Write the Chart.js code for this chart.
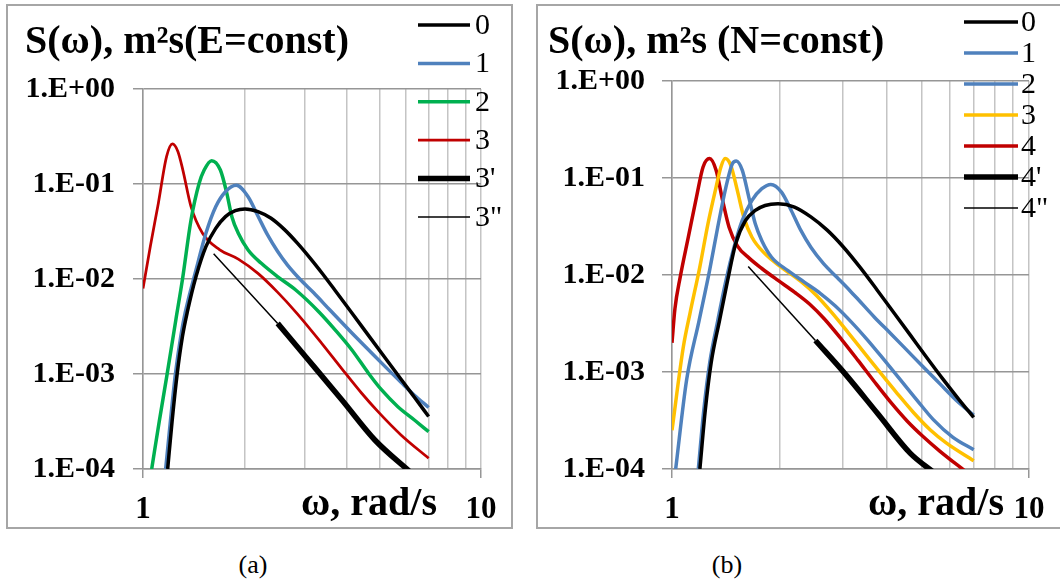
<!DOCTYPE html>
<html>
<head>
<meta charset="utf-8">
<script src="https://cdn.jsdelivr.net/npm/chart.js@4.4.1/dist/chart.umd.min.js"></script>
<style>
  body { margin: 0; background: #fff; width: 1060px; height: 579px; overflow: hidden; position: relative; font-family: "Liberation Serif", "Times New Roman", serif; }
  .panel { position: absolute; top: 4px; height: 525px; box-sizing: border-box; border: 2px solid #a6a6a6; background: #fff; overflow: hidden; }
  #pa { left: 6px; width: 507px; }
  #pb { left: 536px; width: 524px; border-right: none; }
  .panel canvas { display: block; }
  .cap { position: absolute; top: 549px; font-family: "Liberation Serif", serif; font-size: 26px; line-height: 32px; transform: translateX(-50%); color: #000; }
</style>
</head>
<body>
<div class="panel" id="pa"><canvas id="chartA" width="503" height="521"></canvas></div>
<div class="panel" id="pb"><canvas id="chartB" width="522" height="521"></canvas></div>
<div class="cap" style="left:253px">(a)</div>
<div class="cap" style="left:727px">(b)</div>
<script>
// ---- axes ----
const xGridValues = [1, 2, 3, 4, 5, 6, 7, 8, 9, 10];
const xTickLabels = ['1', '', '', '', '', '', '', '', '', '10'];
const yTickValues = [1e-4, 1e-3, 1e-2, 1e-1, 1];
const yTickLabels = ['1.E-04', '1.E-03', '1.E-02', '1.E-01', '1.E+00'];

// ---- panel (a): E = const ----
const labelsA = ['0', '1', '2', '3', "3'", '3"'];
const omegaA0 = [1.183, 1.219, 1.262, 1.309, 1.352, 1.435, 1.535, 1.641, 1.754, 1.875, 2.004, 2.188, 2.393, 2.618, 2.858, 3.126, 3.388, 3.707, 4.150, 4.645, 5.188, 5.808, 6.353, 7.0];
const sA0     = [1.0e-4, 3.16e-4, 1.0e-3, 2.51e-3, 4.47e-3, 0.0106, 0.0219, 0.0341, 0.0453, 0.0524, 0.0546, 0.0512, 0.0436, 0.0333, 0.0240, 0.0165, 0.0115, 0.00753, 0.00439, 0.00255, 0.00150, 8.75e-4, 5.69e-4, 3.57e-4];
const omegaA1 = [1.167, 1.205, 1.247, 1.294, 1.334, 1.435, 1.535, 1.641, 1.754, 1.888, 2.046, 2.188, 2.339, 2.500, 2.673, 2.924, 3.199, 3.573, 4.150, 4.645, 5.188, 5.808, 6.353, 7.0];
const sA1     = [1.0e-4, 3.16e-4, 1.0e-3, 2.51e-3, 4.47e-3, 0.01245, 0.0303, 0.0577, 0.0830, 0.0968, 0.0736, 0.0461, 0.0289, 0.0196, 0.0141, 0.00982, 0.00716, 0.00471, 0.00270, 0.00180, 0.00121, 8.13e-4, 5.98e-4, 4.44e-4];
const omegaA2 = [1.061, 1.117, 1.175, 1.252, 1.309, 1.387, 1.466, 1.517, 1.596, 1.694, 1.770, 1.832, 1.914, 2.046, 2.239, 2.500, 2.831, 3.311, 3.707, 4.150, 4.645, 5.082, 5.675, 6.353, 7.0];
const sA2     = [1.0e-4, 3.16e-4, 9.33e-4, 3.80e-3, 0.0100, 0.0418, 0.1016, 0.1403, 0.1762, 0.1403, 0.0798, 0.0453, 0.0303, 0.0202, 0.01462, 0.0106, 0.00766, 0.00453, 0.00290, 0.00179, 0.00102, 6.79e-4, 4.53e-4, 3.28e-4, 2.47e-4];
const omegaA3 = [1.0, 1.052, 1.110, 1.174, 1.222, 1.269, 1.312, 1.387, 1.500, 1.683, 1.914, 2.188, 2.500, 2.858, 3.388, 3.882, 4.436, 4.966, 5.808, 7.0];
const sA3     = [0.00794, 0.0224, 0.0625, 0.194, 0.264, 0.219, 0.140, 0.0577, 0.0303, 0.0204, 0.0162, 0.01146, 0.00728, 0.00433, 0.00208, 0.001127, 6.27e-4, 3.99e-4, 2.27e-4, 1.297e-4];
const omegaA3p  = [2.503, 3.029, 3.878, 4.853, 6.166];
const sA3p      = [0.00341, 0.00152, 5.32e-4, 2.02e-4, 9.33e-5];
const omegaA3pp = [1.618, 2.503];
const sA3pp     = [0.0184, 0.00341];

// ---- panel (b): N = const ----
const labelsB = ['0', '1', '2', '3', '4', "4'", '4"'];
const omegaB0 = [1.197, 1.239, 1.288, 1.358, 1.431, 1.507, 1.607, 1.711, 1.823, 1.982, 2.203, 2.449, 2.721, 3.020, 3.373, 3.767, 4.188, 4.652, 5.170, 5.741, 6.383, 7.0];
const sB0     = [1.0e-4, 3.98e-4, 1.259e-3, 3.37e-3, 8.73e-3, 0.0209, 0.0365, 0.0463, 0.0521, 0.0542, 0.0501, 0.0397, 0.0290, 0.01945, 0.01183, 0.00689, 0.00406, 0.00240, 0.001413, 8.45e-4, 5.14e-4, 3.40e-4];
const omegaB1 = [1.185, 1.227, 1.276, 1.343, 1.416, 1.492, 1.573, 1.675, 1.785, 1.892, 2.026, 2.158, 2.296, 2.449, 2.661, 2.897, 3.152, 3.319, 3.690, 4.102, 4.556, 5.058, 5.623, 6.252, 7.0];
const sB1     = [1.0e-4, 3.98e-4, 1.259e-3, 3.37e-3, 8.73e-3, 0.0193, 0.0365, 0.0587, 0.0776, 0.0859, 0.0716, 0.0463, 0.0288, 0.0193, 0.0130, 0.00946, 0.00689, 0.00562, 0.00367, 0.00248, 0.00167, 0.001125, 7.59e-4, 5.13e-4, 3.59e-4];
const omegaB2 = [1.024, 1.099, 1.191, 1.274, 1.343, 1.416, 1.476, 1.514, 1.574, 1.641, 1.711, 1.785, 1.901, 2.113, 2.347, 2.606, 2.863, 3.181, 3.536, 3.929, 4.365, 4.853, 5.395, 6.124, 7.0];
const sB2     = [1.0e-4, 8.32e-4, 3.39e-3, 0.0111, 0.0311, 0.0807, 0.1406, 0.150, 0.120, 0.0635, 0.0337, 0.0226, 0.01524, 0.01109, 0.00845, 0.00644, 0.00482, 0.00327, 0.00212, 0.00133, 8.28e-4, 5.14e-4, 3.23e-4, 2.12e-4, 1.58e-4];
const omegaB3 = [1.0, 1.076, 1.123, 1.196, 1.261, 1.329, 1.371, 1.409, 1.461, 1.524, 1.589, 1.675, 1.823, 2.026, 2.296, 2.535, 2.804, 3.115, 3.462, 3.846, 4.276, 4.753, 5.284, 5.861, 7.0];
const sB3     = [2.51e-4, 1.82e-3, 4.03e-3, 0.0120, 0.0337, 0.0807, 0.130, 0.1585, 0.1352, 0.0745, 0.0395, 0.0245, 0.0165, 0.0120, 0.00857, 0.00618, 0.00409, 0.00255, 0.001567, 9.66e-4, 6.0e-4, 3.80e-4, 2.54e-4, 1.86e-4, 1.216e-4];
const omegaB4 = [1.0, 1.019, 1.054, 1.111, 1.171, 1.222, 1.274, 1.329, 1.386, 1.445, 1.524, 1.648, 1.785, 1.982, 2.203, 2.432, 2.673, 2.987, 3.319, 3.690, 4.102, 4.555, 5.058, 5.623, 6.683];
const sB4     = [0.0020, 0.00447, 0.00946, 0.0246, 0.0635, 0.130, 0.1585, 0.120, 0.0588, 0.0311, 0.0200, 0.01483, 0.01167, 0.00879, 0.00667, 0.0050, 0.00352, 0.00216, 0.001318, 7.93e-4, 4.86e-4, 3.13e-4, 2.15e-4, 1.531e-4, 9.27e-5];
const omegaB4p  = [2.522, 3.050, 3.767, 4.652, 5.433];
const sB4p      = [0.00211, 9.62e-4, 3.73e-4, 1.449e-4, 9.12e-5];
const omegaB4pp = [1.635, 2.522];
const sB4pp     = [0.01225, 0.00211];

const BLACK = '#000000', BLUE = '#4f81bd', GREEN = '#00b050', RED = '#c00000', YELLOW = '#ffc000';
const SERIF = '"Liberation Serif", "Times New Roman", serif';

// titles, axis name and the legend are painted on top of the chart
const panelText = {
  id: 'panelText',
  afterDraw(chart, args, o) {
    const ctx = chart.ctx;
    ctx.save();
    ctx.fillStyle = '#000';
    ctx.font = 'bold 40px ' + SERIF;
    ctx.textBaseline = 'alphabetic';
    ctx.textAlign = 'left';
    ctx.fillText(o.title, o.titleX, o.titleY);
    ctx.textAlign = 'center';
    ctx.fillText(o.xName, o.xNameX, o.xNameY);

    ctx.font = '30px ' + SERIF;
    ctx.textAlign = 'left';
    ctx.textBaseline = 'middle';
    chart.data.datasets.forEach((ds, i) => {
      const y = o.legendY + i * o.legendGap;
      ctx.strokeStyle = ds.borderColor;
      ctx.lineWidth = ds.borderWidth;
      ctx.beginPath();
      ctx.moveTo(o.legendX0, y);
      ctx.lineTo(o.legendX1, y);
      ctx.stroke();
      ctx.fillText(ds.label, o.legendTextX, y + 1);
    });
    ctx.restore();
  }
};

function series(label, omega, s, color, width) {
  return {
    label,
    data: omega.map((w, i) => ({ x: w, y: s[i] })),
    borderColor: color,
    borderWidth: width,
    pointRadius: 0,
    fill: false,
    cubicInterpolationMode: 'monotone',
    borderJoinStyle: 'round'
  };
}

function makeChart(id, datasets, lay) {
  return new Chart(document.getElementById(id), {
    type: 'line',
    data: { datasets },
    options: {
      responsive: false,
      animation: false,
      events: [],
      layout: { padding: { left: 0, right: lay.right, top: lay.top, bottom: 0 } },
      plugins: { legend: { display: false }, tooltip: { enabled: false }, panelText: lay.text },
      scales: {
        x: {
          type: 'logarithmic', min: 1, max: 10,
          afterBuildTicks: s => { s.ticks = xGridValues.map(v => ({ value: v })); },
          afterFit: s => { s.height = 58; },
          ticks: {
            autoSkip: false, maxRotation: 0, minRotation: 0, padding: 13, color: '#000',
            font: { family: SERIF, size: 31, weight: 'bold' },
            callback: (v, i) => xTickLabels[i]
          },
          grid: {
            color: '#c4c4c4', lineWidth: 1.5, tickLength: 9,
            tickColor: c => xTickLabels[c.index] ? '#969696' : 'rgba(0,0,0,0)'
          },
          border: { color: '#969696', width: 1.5 }
        },
        y: {
          type: 'logarithmic', min: 1e-4, max: 1,
          afterBuildTicks: s => { s.ticks = yTickValues.map(v => ({ value: v })); },
          afterFit: s => { s.width = lay.yWidth; },
          ticks: {
            padding: lay.yPad, color: '#000',
            font: { family: SERIF, size: 30, weight: 'bold' },
            callback: (v, i) => yTickLabels[i]
          },
          grid: { color: '#969696', lineWidth: 1.5, tickLength: 10 },
          border: { color: '#969696', width: 1.5 }
        }
      }
    },
    plugins: [panelText]
  });
}

makeChart('chartA', [
  series(labelsA[0], omegaA0, sA0, BLACK, 3.5),
  series(labelsA[1], omegaA1, sA1, BLUE, 3.5),
  series(labelsA[2], omegaA2, sA2, GREEN, 3.5),
  series(labelsA[3], omegaA3, sA3, RED, 2.75),
  series(labelsA[4], omegaA3p, sA3p, BLACK, 5.5),
  series(labelsA[5], omegaA3pp, sA3pp, BLACK, 1.5)
], {
  right: 30, top: 83, yWidth: 135, yPad: 18,
  text: {
    title: 'S(ω), m²s(E=const)', titleX: 17, titleY: 47,
    xName: 'ω, rad/s', xNameX: 361, xNameY: 509,
    legendX0: 410, legendX1: 462, legendTextX: 467, legendY: 19, legendGap: 38.4
  }
});

makeChart('chartB', [
  series(labelsB[0], omegaB0, sB0, BLACK, 3.5),
  series(labelsB[1], omegaB1, sB1, BLUE, 3.5),
  series(labelsB[2], omegaB2, sB2, BLUE, 3.5),
  series(labelsB[3], omegaB3, sB3, YELLOW, 3.5),
  series(labelsB[4], omegaB4, sB4, RED, 3.5),
  series(labelsB[5], omegaB4p, sB4p, BLACK, 5.5),
  series(labelsB[6], omegaB4pp, sB4pp, BLACK, 1.5)
], {
  right: 31, top: 75, yWidth: 134, yPad: 17,
  text: {
    title: 'S(ω), m²s (N=const)', titleX: 10, titleY: 47,
    xName: 'ω, rad/s', xNameX: 398, xNameY: 509,
    legendX0: 426, legendX1: 480, legendTextX: 483, legendY: 16, legendGap: 31
  }
});
</script>
</body>
</html>
